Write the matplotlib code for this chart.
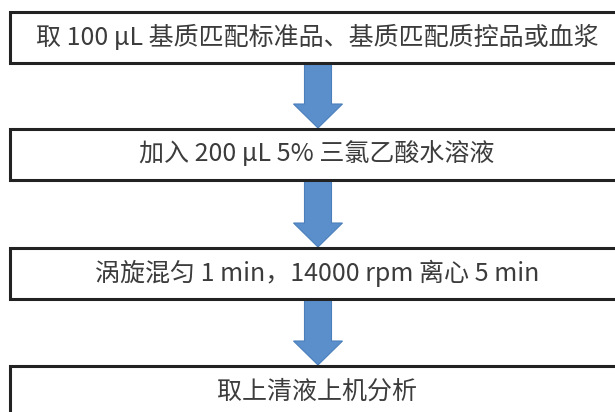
import matplotlib.pyplot as plt
from matplotlib.patches import Rectangle, Polygon

plt.rcParams['font.family'] = ['Noto Sans CJK SC', 'DejaVu Sans']

# 流程步骤
pasos = [
    "取 100 µL 基质匹配标准品、基质匹配质控品或血浆",
    "加入 200 µL 5% 三氯乙酸水溶液",
    "涡旋混匀 1 min，14000 rpm 离心 5 min",
    "取上清液上机分析",
]

# 布局（像素坐标）
W, H = 615, 412
caja_x0, caja_x1 = 10, 632
caja_top = [12, 129, 248, 366]
caja_alto = 51
flecha_cx = 318
eje_w, cabeza_w, cabeza_h = 27, 49, 25
color_flecha = '#5A8FCB'

fig = plt.figure(figsize=(W / 100, H / 100), dpi=100)
ax = fig.add_axes([0, 0, 1, 1])
ax.set_xlim(0, W)
ax.set_ylim(H, 0)
ax.axis('off')

for i, texto in enumerate(pasos):
    y0 = caja_top[i]
    ax.add_patch(Rectangle((caja_x0, y0), caja_x1 - caja_x0, caja_alto,
                           facecolor='white', edgecolor='#222222', lw=2.2, zorder=2))
    ax.text(317, y0 + caja_alto / 2, texto,
            ha='center', va='center', fontsize=18,
            color='#3c3c3c', zorder=3)

    if i < len(pasos) - 1:
        ya = y0 + caja_alto
        yb = caja_top[i + 1]
        yc = yb - cabeza_h
        pts = [
            (flecha_cx - eje_w / 2, ya), (flecha_cx + eje_w / 2, ya),
            (flecha_cx + eje_w / 2, yc), (flecha_cx + cabeza_w / 2, yc),
            (flecha_cx, yb - 1), (flecha_cx - cabeza_w / 2, yc),
            (flecha_cx - eje_w / 2, yc),
        ]
        ax.add_patch(Polygon(pts, closed=True, facecolor=color_flecha,
                             edgecolor='#4A7FBB', lw=0.8, zorder=1))

fig.savefig('out.png', dpi=100)
